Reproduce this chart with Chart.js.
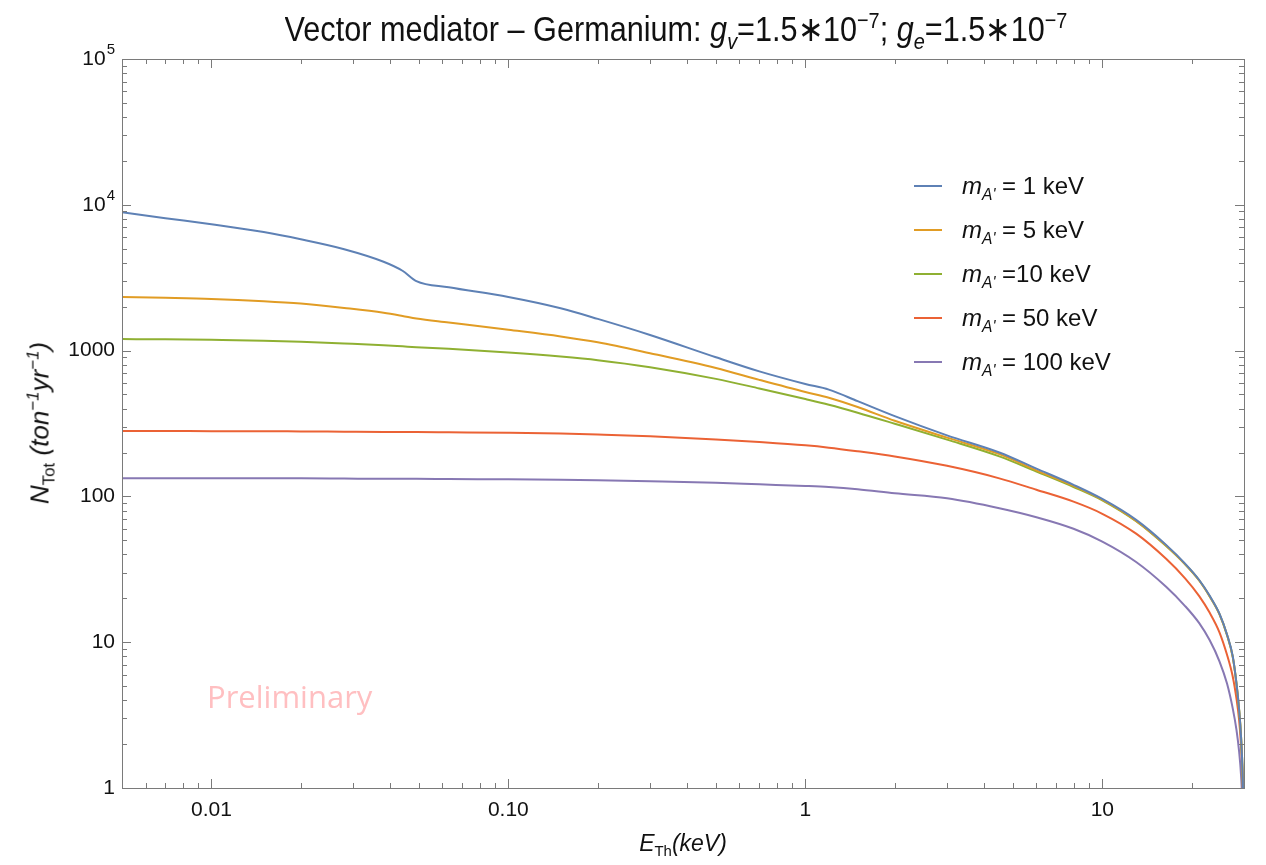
<!DOCTYPE html>
<html>
<head>
<meta charset="utf-8">
<script src="https://cdn.jsdelivr.net/npm/chart.js@4.4.1/dist/chart.umd.min.js"></script>
<style>
  body { margin: 0; background: #fff; }
  #wrap { position: relative; width: 1266px; height: 865px; }
  #chart { position: absolute; left: 0; top: 0; }
  .narrow { font-family: "Liberation Sans Narrow", "Liberation Sans", Arial, sans-serif; }
  #title { position: absolute; left: 676px; top: 29px; transform: translate(-50%, -50%) scaleX(0.875); font-size: 35px; color: #111; white-space: nowrap; }
  #ylab { position: absolute; left: 40px; top: 423px; transform: translate(-50%, -50%) rotate(-90deg); font-size: 26px; white-space: nowrap; color: #111; }
  #xlab { position: absolute; left: 683px; top: 843px; transform: translate(-50%, -50%); font-size: 23px; white-space: nowrap; color: #111; }
  #legend { position: absolute; left: 914px; top: 164px; font-family: "Liberation Sans", Arial, sans-serif; font-size: 24px; color: #111; }
  .row { height: 44px; display: flex; align-items: center; white-space: nowrap; }
  .swatch { width: 28px; height: 2px; margin-right: 20px; }
  sub, sup { font-size: 65%; line-height: 0; }
  #prelim { position: absolute; left: 207px; top: 675px; font-family: "Open Sans", Lato, sans-serif; font-size: 31px; color: #ffbfc1; }
</style>
</head>
<body>
<div id="wrap">
  <canvas id="chart" width="1266" height="865"></canvas>
  <div id="title" class="narrow">Vector mediator – Germanium: <i>g<sub>v</sub></i>=1.5∗10<sup>−7</sup>; <i>g<sub>e</sub></i>=1.5∗10<sup>−7</sup></div>
  <div id="ylab" class="narrow"><i>N</i><sub>Tot</sub> <i>(ton<sup>−1</sup>yr<sup>−1</sup>)</i></div>
  <div id="xlab" class="narrow"><i>E</i><sub>Th</sub><i>(keV)</i></div>
  <div id="legend"></div>
  <div id="prelim">Preliminary</div>
</div>
<script>
// threshold energy (keV)
const energies = [0.005, 0.007, 0.01, 0.015, 0.02, 0.028, 0.038, 0.044, 0.049, 0.063,
  0.1, 0.15, 0.2, 0.3, 0.5, 0.7, 1.0, 1.2, 1.5, 2.0, 3.0, 4.5, 6, 8, 10, 13, 16.4,
  19, 21.2, 23, 24.8, 26.3, 27.5, 28.3, 28.9, 29.3, 29.7, 29.95];

// N_Tot per mediator mass
const mass1 = [8900, 8100, 7350, 6500, 5800, 4960, 4070, 3530, 3000, 2720,
  2330, 1950, 1650, 1280, 900, 720, 590, 540, 450, 355, 262, 200, 155, 120, 96, 69, 46.5,
  34.6, 26.7, 20.8, 15.7, 11.3, 8.0, 5.2, 3.4, 2.3, 1.2, 0.5];
const mass5 = [2330, 2300, 2260, 2180, 2100, 1960, 1820, 1730, 1660, 1560,
  1390, 1250, 1140, 960, 760, 630, 520, 475, 410, 330, 253, 195, 151, 118, 95, 68, 46,
  34.3, 26.5, 20.6, 15.6, 11.2, 7.9, 5.2, 3.4, 2.3, 1.2, 0.5];
const mass10 = [1200, 1195, 1185, 1170, 1150, 1120, 1090, 1070, 1055, 1030,
  970, 910, 860, 770, 640, 550, 465, 425, 375, 315, 245, 188, 148, 116, 94, 67.5, 45.6,
  34.2, 26.5, 20.6, 15.6, 11.2, 7.9, 5.2, 3.4, 2.3, 1.2, 0.5];
const mass50 = [281, 281, 280, 280, 279, 278, 277, 276, 276, 275,
  273, 270, 266, 259, 246, 236, 224, 216, 204, 188, 162, 133, 111, 92, 76, 55.5, 37.3,
  27.4, 20.7, 15.9, 11.7, 8.2, 5.8, 4.1, 2.9, 2.0, 1.1, 0.4];
const mass100 = [133, 133, 133, 133, 133, 132.5, 132, 132, 132, 131.5,
  131, 130, 129, 127, 124, 121, 118, 116, 112, 105, 97, 83, 72, 60, 49, 35.5, 24,
  17.7, 13.5, 10.3, 7.4, 5.2, 3.5, 2.5, 1.76, 1.25, 0.68, 0.3];

const seriesValues = [mass1, mass5, mass10, mass50, mass100];
const seriesMasses = ['1', '5', '10', '50', '100'];
const seriesColors = ['#5e81b5', '#e19c24', '#8fb032', '#eb6235', '#8778b3'];

const xTickValues = [0.01, 0.1, 1, 10];
const xTickLabels = ['0.01', '0.10', '1', '10'];
const yTickValues = [1, 10, 100, 1000, 1e4, 1e5];
const yTickLabels = ['1', '10', '100', '1000', '10^4', '10^5'];

const frameColor = '#7a7a7a';

// Mathematica-style frame: ticks pointing inward on all four sides
const frameTicks = {
    id: 'frameTicks',
    afterDraw(chart) {
        const ctx = chart.ctx;
        const a = chart.chartArea;
        const xs = chart.scales.x, ys = chart.scales.y;
        ctx.save();
        ctx.strokeStyle = frameColor;
        ctx.lineWidth = 1;
        ctx.strokeRect(a.left + 0.5, a.top + 0.5, a.right - a.left, a.bottom - a.top);

        const logTicks = (min, max) => {
            const out = [];
            for (let d = Math.floor(Math.log10(min)); d <= Math.ceil(Math.log10(max)); d++) {
                for (let k = 1; k <= 9; k++) {
                    const v = k * Math.pow(10, d);
                    if (v >= min * 0.9999 && v <= max * 1.0001) out.push({ v: v, major: k === 1 });
                }
            }
            return out;
        };

        ctx.beginPath();
        logTicks(xs.min, xs.max).forEach(t => {
            const px = Math.round(xs.getPixelForValue(t.v)) + 0.5;
            const len = t.major ? 9 : 5;
            ctx.moveTo(px, a.bottom); ctx.lineTo(px, a.bottom - len);
            ctx.moveTo(px, a.top); ctx.lineTo(px, a.top + len);
        });
        logTicks(ys.min, ys.max).forEach(t => {
            const py = Math.round(ys.getPixelForValue(t.v)) + 0.5;
            const len = t.major ? 9 : 5;
            ctx.moveTo(a.left, py); ctx.lineTo(a.left + len, py);
            ctx.moveTo(a.right, py); ctx.lineTo(a.right - len, py);
        });
        ctx.stroke();

        ctx.fillStyle = '#111';
        ctx.font = '21px "Liberation Sans", Arial, sans-serif';
        ctx.textAlign = 'center';
        ctx.textBaseline = 'top';
        xTickValues.forEach((v, i) => {
            ctx.fillText(xTickLabels[i], xs.getPixelForValue(v), a.bottom + 12);
        });
        ctx.textBaseline = 'middle';
        yTickValues.forEach((v, i) => {
            const py = ys.getPixelForValue(v);
            const lab = yTickLabels[i];
            ctx.textAlign = 'right';
            if (lab.indexOf('^') > 0) {
                const parts = lab.split('^');
                ctx.font = '15px "Liberation Sans", Arial, sans-serif';
                const wExp = ctx.measureText(parts[1]).width;
                ctx.fillText(parts[1], a.left - 7, py - 9);
                ctx.font = '21px "Liberation Sans", Arial, sans-serif';
                ctx.fillText(parts[0], a.left - 8 - wExp, py);
            } else {
                ctx.fillText(lab, a.left - 7, py);
            }
        });
        ctx.restore();
    }
};

const datasets = seriesValues.map((vals, i) => ({
    label: 'm_A\' = ' + seriesMasses[i] + ' keV',
    data: energies.map((e, j) => ({ x: e, y: vals[j] })),
    borderColor: seriesColors[i],
    backgroundColor: seriesColors[i],
    borderWidth: 2,
    pointRadius: 0,
    cubicInterpolationMode: 'monotone',
    fill: false
}));

const chart = new Chart(document.getElementById('chart'), {
    type: 'line',
    data: { datasets: datasets },
    options: {
        responsive: false,
        animation: false,
        layout: { padding: { left: 122, right: 22, top: 59, bottom: 77 } },
        plugins: {
            legend: { display: false },
            tooltip: { enabled: false }
        },
        scales: {
            x: {
                type: 'logarithmic', min: 0.005, max: 30,
                ticks: { display: false },
                grid: { display: false, drawTicks: false },
                border: { display: false }
            },
            y: {
                type: 'logarithmic', min: 1, max: 1e5,
                ticks: { display: false },
                grid: { display: false, drawTicks: false },
                border: { display: false }
            }
        }
    },
    plugins: [frameTicks]
});

// legend with subscripts, built from the series lists
const legendEl = document.getElementById('legend');
seriesMasses.forEach((m, i) => {
    const row = document.createElement('div');
    row.className = 'row';
    const eq = m === '10' ? ' =10 keV' : ' = ' + m + ' keV';
    row.innerHTML = '<span class="swatch" style="background:' + seriesColors[i] + '"></span>' +
        '<span><i>m<sub>A\'</sub></i>' + eq + '</span>';
    legendEl.appendChild(row);
});
</script>
</body>
</html>
